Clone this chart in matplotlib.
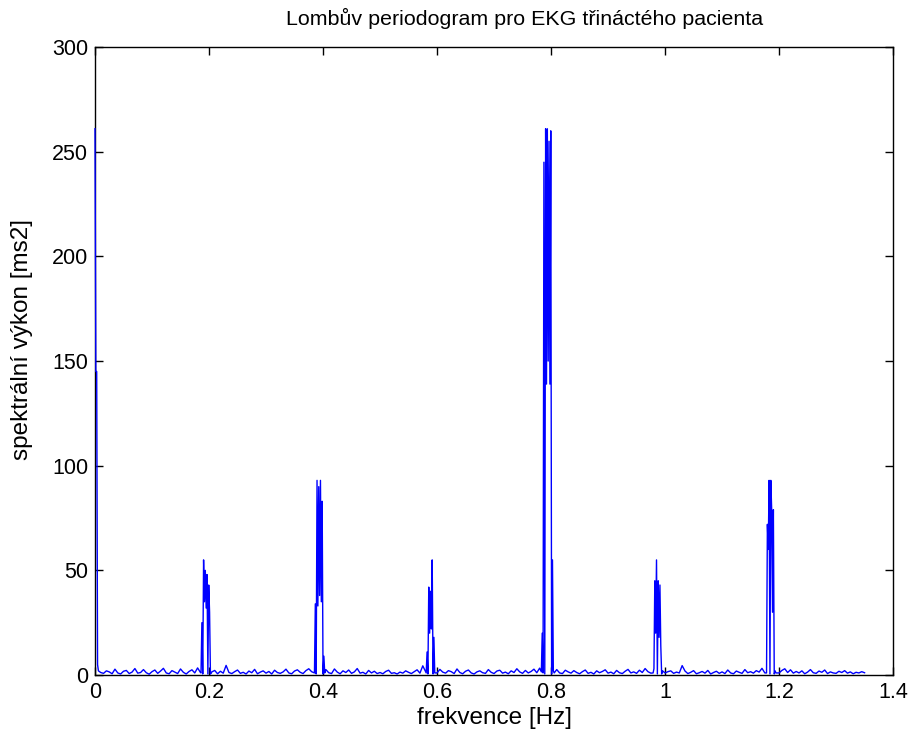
import numpy as np
import matplotlib.pyplot as plt

# baseline noise of the periodogram, one value every 0.005 Hz from 0 to 1.35 Hz
baseline = [
    2.5, 3.0, 1.2, 0.8, 2.0, 1.5, 0.6, 2.8, 1.0, 0.5, 1.8, 2.2, 0.7, 1.4, 3.1, 0.9, 1.2, 2.6, 1.1, 0.4,
    1.6, 2.4, 0.8, 1.9, 3.2, 1.0, 0.6, 2.1, 1.4, 0.7, 2.9, 1.3, 0.5, 1.7, 2.5, 1.0, 3.4, 1.2, 2.0, 1.1,
    1.0, 1.5, 2.2, 0.6, 1.8, 0.9, 4.6, 1.2, 0.7, 1.6, 2.4, 0.8, 1.3, 0.5, 1.9, 1.1, 2.7, 0.6, 1.4, 2.0,
    0.9, 1.7, 0.5, 2.3, 1.2, 0.8, 1.5, 2.8, 1.0, 0.6, 1.9, 2.5, 1.3, 0.7, 2.1, 3.0, 1.6, 1.0, 2.2, 1.0,
    1.0, 2.6, 1.1, 0.7, 2.9, 1.4, 0.6, 2.0, 1.2, 2.4, 0.8, 1.5, 3.1, 0.9, 1.3, 0.5, 2.2, 1.0, 1.8, 0.7,
    1.2, 0.6, 1.7, 2.3, 0.8, 1.1, 0.5, 1.4, 0.9, 2.0, 1.3, 0.7, 1.6, 2.5, 0.9, 4.4, 1.5, 2.2, 0.8, 1.0,
    1.0, 2.7, 1.4, 0.9, 2.1, 1.6, 0.7, 2.9, 1.2, 0.6, 1.8, 2.4, 1.0, 0.5, 1.5, 2.0, 1.1, 0.8, 2.6, 1.3,
    0.7, 1.9, 2.3, 0.9, 1.4, 0.6, 2.0, 1.2, 3.0, 1.5, 0.8, 2.2, 1.0, 1.7, 2.8, 1.1, 3.3, 1.4, 2.0, 1.0,
    1.0, 1.8, 2.6, 1.0, 0.7, 2.3, 1.5, 0.9, 2.1, 1.2, 0.6, 1.6, 2.4, 0.8, 1.3, 0.5, 2.0, 1.1, 1.7, 2.5,
    0.9, 1.4, 0.6, 2.2, 1.1, 0.7, 1.8, 2.7, 1.0, 1.5, 0.8, 2.3, 1.2, 3.1, 1.6, 0.9, 2.4, 3.0, 1.3, 1.0,
    1.0, 1.6, 2.0, 0.8, 1.4, 1.0, 4.5, 1.9, 0.7, 1.3, 2.1, 0.6, 1.1, 1.7, 0.9, 2.2, 0.5, 1.2, 1.8, 0.8,
    1.5, 0.7, 2.4, 1.0, 0.6, 1.9, 1.3, 0.8, 2.6, 1.1, 1.6, 0.9, 2.1, 1.4, 3.2, 1.0, 2.3, 1.7, 2.8, 1.0,
    1.0, 2.2, 3.0, 1.2, 2.5, 0.9, 1.7, 1.0, 2.0, 0.6, 1.4, 2.6, 1.1, 0.8, 1.9, 1.3, 2.4, 0.7, 1.5, 1.0,
    0.8, 1.8, 1.2, 2.1, 0.9, 1.5, 0.6, 1.3, 1.0, 1.6, 1.1,
]
base_step = 0.005

# peaks, sampled finer (every 0.0015 Hz) starting at the given frequency
peak_step = 0.0015
peak_starts = [0.0, 0.186, 0.385, 0.581, 0.783, 0.979, 1.178]
peak_values = [
    [261, 145, 145, 5, 2],
    [1, 25, 0.5, 55, 35, 50, 32, 48, 0.5, 43, 30, 0.5, 1],
    [1, 34, 0.5, 93, 33, 90, 38, 93, 35, 83, 0.5, 9, 1],
    [1, 11, 0.5, 42, 20, 40, 22, 55, 0.5, 18, 1],
    [1.5, 20, 1, 245, 0.5, 261, 139, 261, 150, 255, 139, 260, 0.5, 55, 2, 1],
    [1, 3, 45, 20, 55, 0.5, 45, 18, 43, 14, 0.5, 2],
    [1, 72, 60, 93, 0.5, 93, 79, 30, 79, 0.5, 2, 1],
]

# merge baseline and peaks into one frequency/power series
freq = list(np.arange(len(baseline)) * base_step)
power = list(baseline)
for start, vals in zip(peak_starts, peak_values):
    end = start + (len(vals) - 1) * peak_step
    keep = [(f, p) for f, p in zip(freq, power) if f < start - 1e-9 or f > end + 1e-9]
    freq = [k[0] for k in keep] + [start + i * peak_step for i in range(len(vals))]
    power = [k[1] for k in keep] + list(vals)
order = np.argsort(freq)
freq = np.array(freq)[order]
power = np.array(power)[order]

plt.rcParams['font.family'] = ['Liberation Sans', 'DejaVu Sans']

fig = plt.figure(figsize=(9.09, 7.44), dpi=100)
ax = fig.add_axes([0.1045, 0.0927, 0.878, 0.844])
ax.plot(freq, power, color=(0, 0, 1), linewidth=1.0, zorder=3, clip_on=False)

ax.set_xlim(0, 1.4)
ax.set_ylim(0, 300)
ax.set_xticks([0, 0.2, 0.4, 0.6, 0.8, 1.0, 1.2, 1.4])
ax.set_xticklabels(['0', '0.2', '0.4', '0.6', '0.8', '1', '1.2', '1.4'])
ax.set_yticks([0, 50, 100, 150, 200, 250, 300])
ax.tick_params(direction='in', top=True, right=True, length=6, width=1,
               labelsize=15.5, pad=5)
for s in ax.spines.values():
    s.set_linewidth(1.0)

fig.text(525 / 909, 1 - 18 / 744, 'Lombův periodogram pro EKG třináctého pacienta',
         fontsize=15.4, ha='center', va='center')
ax.set_xlabel('frekvence [Hz]', fontsize=17.5, va='center')
ax.xaxis.set_label_coords(0.5, -0.0685)
ax.set_ylabel('spektrální výkon [ms2]', fontsize=17.5, va='center')
ax.yaxis.set_label_coords(-0.0915, 0.535)

fig.savefig('out.png', dpi=100)
